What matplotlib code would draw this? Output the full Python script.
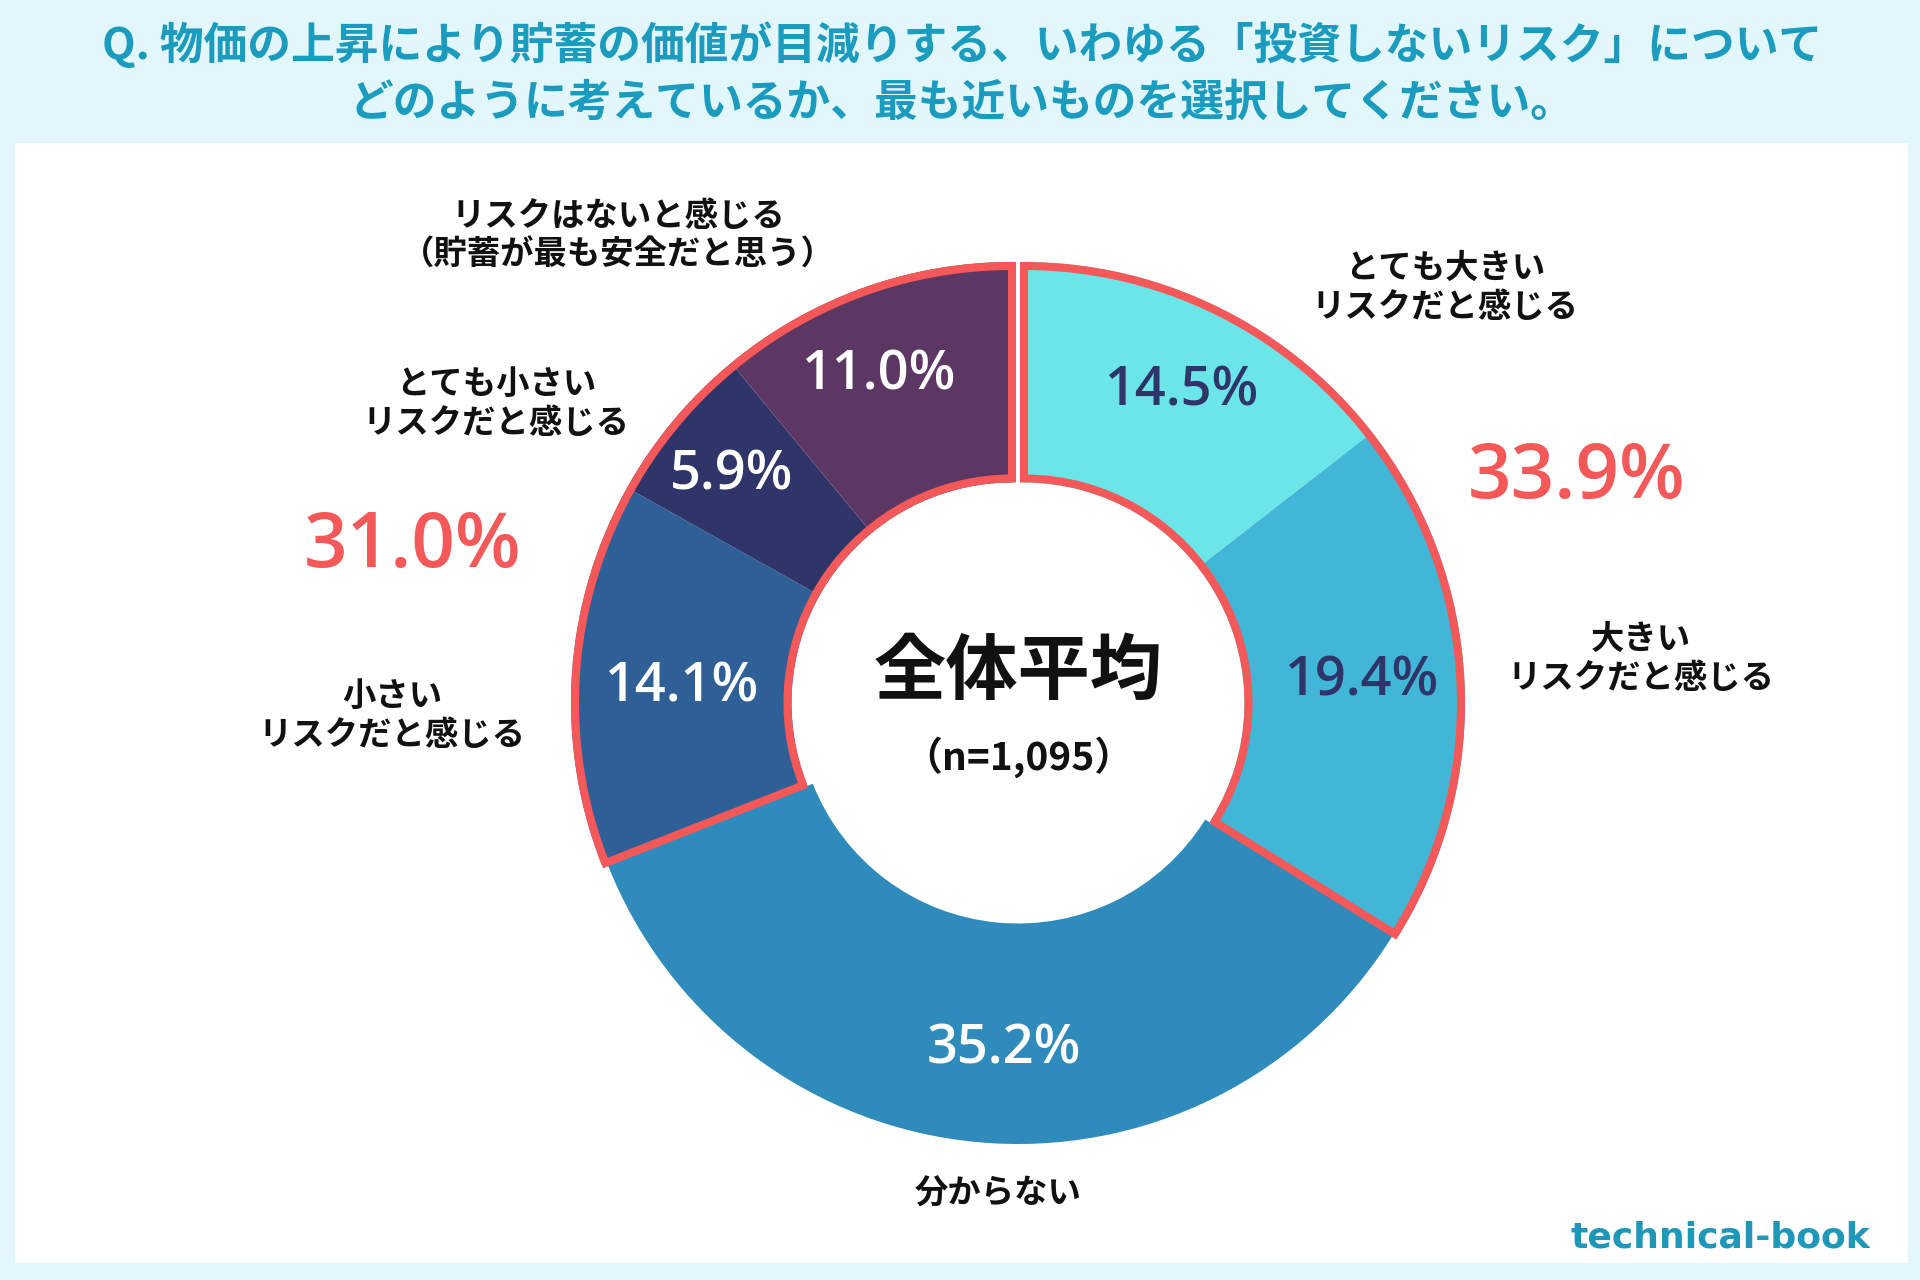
import matplotlib
matplotlib.use("Agg")
import matplotlib.pyplot as plt
from matplotlib.patches import Wedge, Rectangle

# data
categories = ["とても大きい\nリスクだと感じる", "大きい\nリスクだと感じる", "分からない",
              "小さい\nリスクだと感じる", "とても小さい\nリスクだと感じる",
              "リスクはないと感じる\n（貯蓄が最も安全だと思う）"]
values = [14.5, 19.4, 35.2, 14.1, 5.9, 11.0]
colors = ["#6ce5e8", "#41b6d6", "#2e8bbb", "#2e5f96", "#2f3469", "#5c3764"]
pct_colors = ["#2f3469", "#2f3469", "white", "white", "white", "white"]
groups = [[0, 1], [3, 4, 5]]
group_totals = ["33.9%", "31.0%"]
title = ("Q. 物価の上昇により貯蓄の価値が目減りする、いわゆる「投資しないリスク」について\n"
         "どのように考えているか、最も近いものを選択してください。")

W, H = 1920, 1280
JP = ["Noto Sans CJK JP", "DejaVu Sans"]
NUM = ["Open Sans", "Noto Sans", "DejaVu Sans"]
RED = "#f45858"

def Y(y):
    return H - y

fig = plt.figure(figsize=(19.2, 12.8), dpi=100)
fig.patch.set_facecolor("#e1f7fc")
ax = fig.add_axes([0, 0, 1, 1])

ax.add_patch(Rectangle((15, Y(1263)), 1893, 1263 - 143, facecolor="white", edgecolor="none", zorder=0))

cx, cy = 1018, Y(703)
R = 441
ring = R * 0.5
shift = {0: 6, 1: 6, 3: -6, 4: -6, 5: -6}

wedges, _ = ax.pie(values, startangle=90, counterclock=False, colors=colors,
                   radius=R, center=(cx, cy),
                   wedgeprops=dict(width=ring, linewidth=0))
for i, w in enumerate(wedges):
    w.set_center((cx + shift.get(i, 0), cy))
    w.set_zorder(2)

# group outlines
for g in groups:
    t1 = min(wedges[i].theta1 for i in g)
    t2 = max(wedges[i].theta2 for i in g)
    dx = shift[g[0]]
    ax.add_patch(Wedge((cx + dx, cy), R - 4, t1, t2, width=ring - 8, fill=False,
                       edgecolor=RED, linewidth=5.8, joinstyle="miter", zorder=3))

# percentage labels
pct_pos = [(1182, 392), (1362, 682), (1004, 1049), (682, 688), (732, 475), (879, 375)]
for i, (x, y) in enumerate(pct_pos):
    ax.text(x, Y(y), f"{values[i]:.1f}%", ha="center", va="center", fontsize=39,
            color=pct_colors[i], family=NUM, fontweight="semibold", zorder=4)

# category labels
label_pos = [(1445, 288), (1641, 659), (998, 1194), (392, 716), (496, 404), (618, 236)]
for text, (x, y) in zip(categories, label_pos):
    ax.text(x, Y(y), text, ha="center", va="center", fontsize=24, fontweight="bold",
            family=JP, color="#111111", linespacing=1.2, zorder=4)

# group totals
for text, (x, y) in zip(group_totals, [(1577, 478), (413, 547)]):
    ax.text(x, Y(y), text, ha="center", va="center", fontsize=55, color=RED,
            family=NUM, fontweight="semibold", zorder=4)

# center text
ax.text(cx, Y(673), "全体平均", ha="center", va="center", fontsize=52,
        fontweight="bold", family=JP, color="#111111", zorder=4)
ax.text(cx, Y(757), "（n=1,095）", ha="center", va="center", fontsize=28,
        fontweight="bold", family=JP, color="#111111", zorder=4)

# title
ax.text(962, Y(73), title, ha="center", va="center", fontsize=31.5, fontweight="bold",
        family=JP, color="#1b9bbd", linespacing=1.35, zorder=4)

# watermark
ax.text(1720, Y(1237), "technical-book", ha="center", va="center", fontsize=26,
        fontweight="bold", family="DejaVu Sans", color="#1f97b8", zorder=4)

ax.set_xlim(0, W)
ax.set_ylim(0, H)
ax.set_aspect("auto")
ax.axis("off")

fig.savefig("out.png", dpi=100, facecolor=fig.get_facecolor())
